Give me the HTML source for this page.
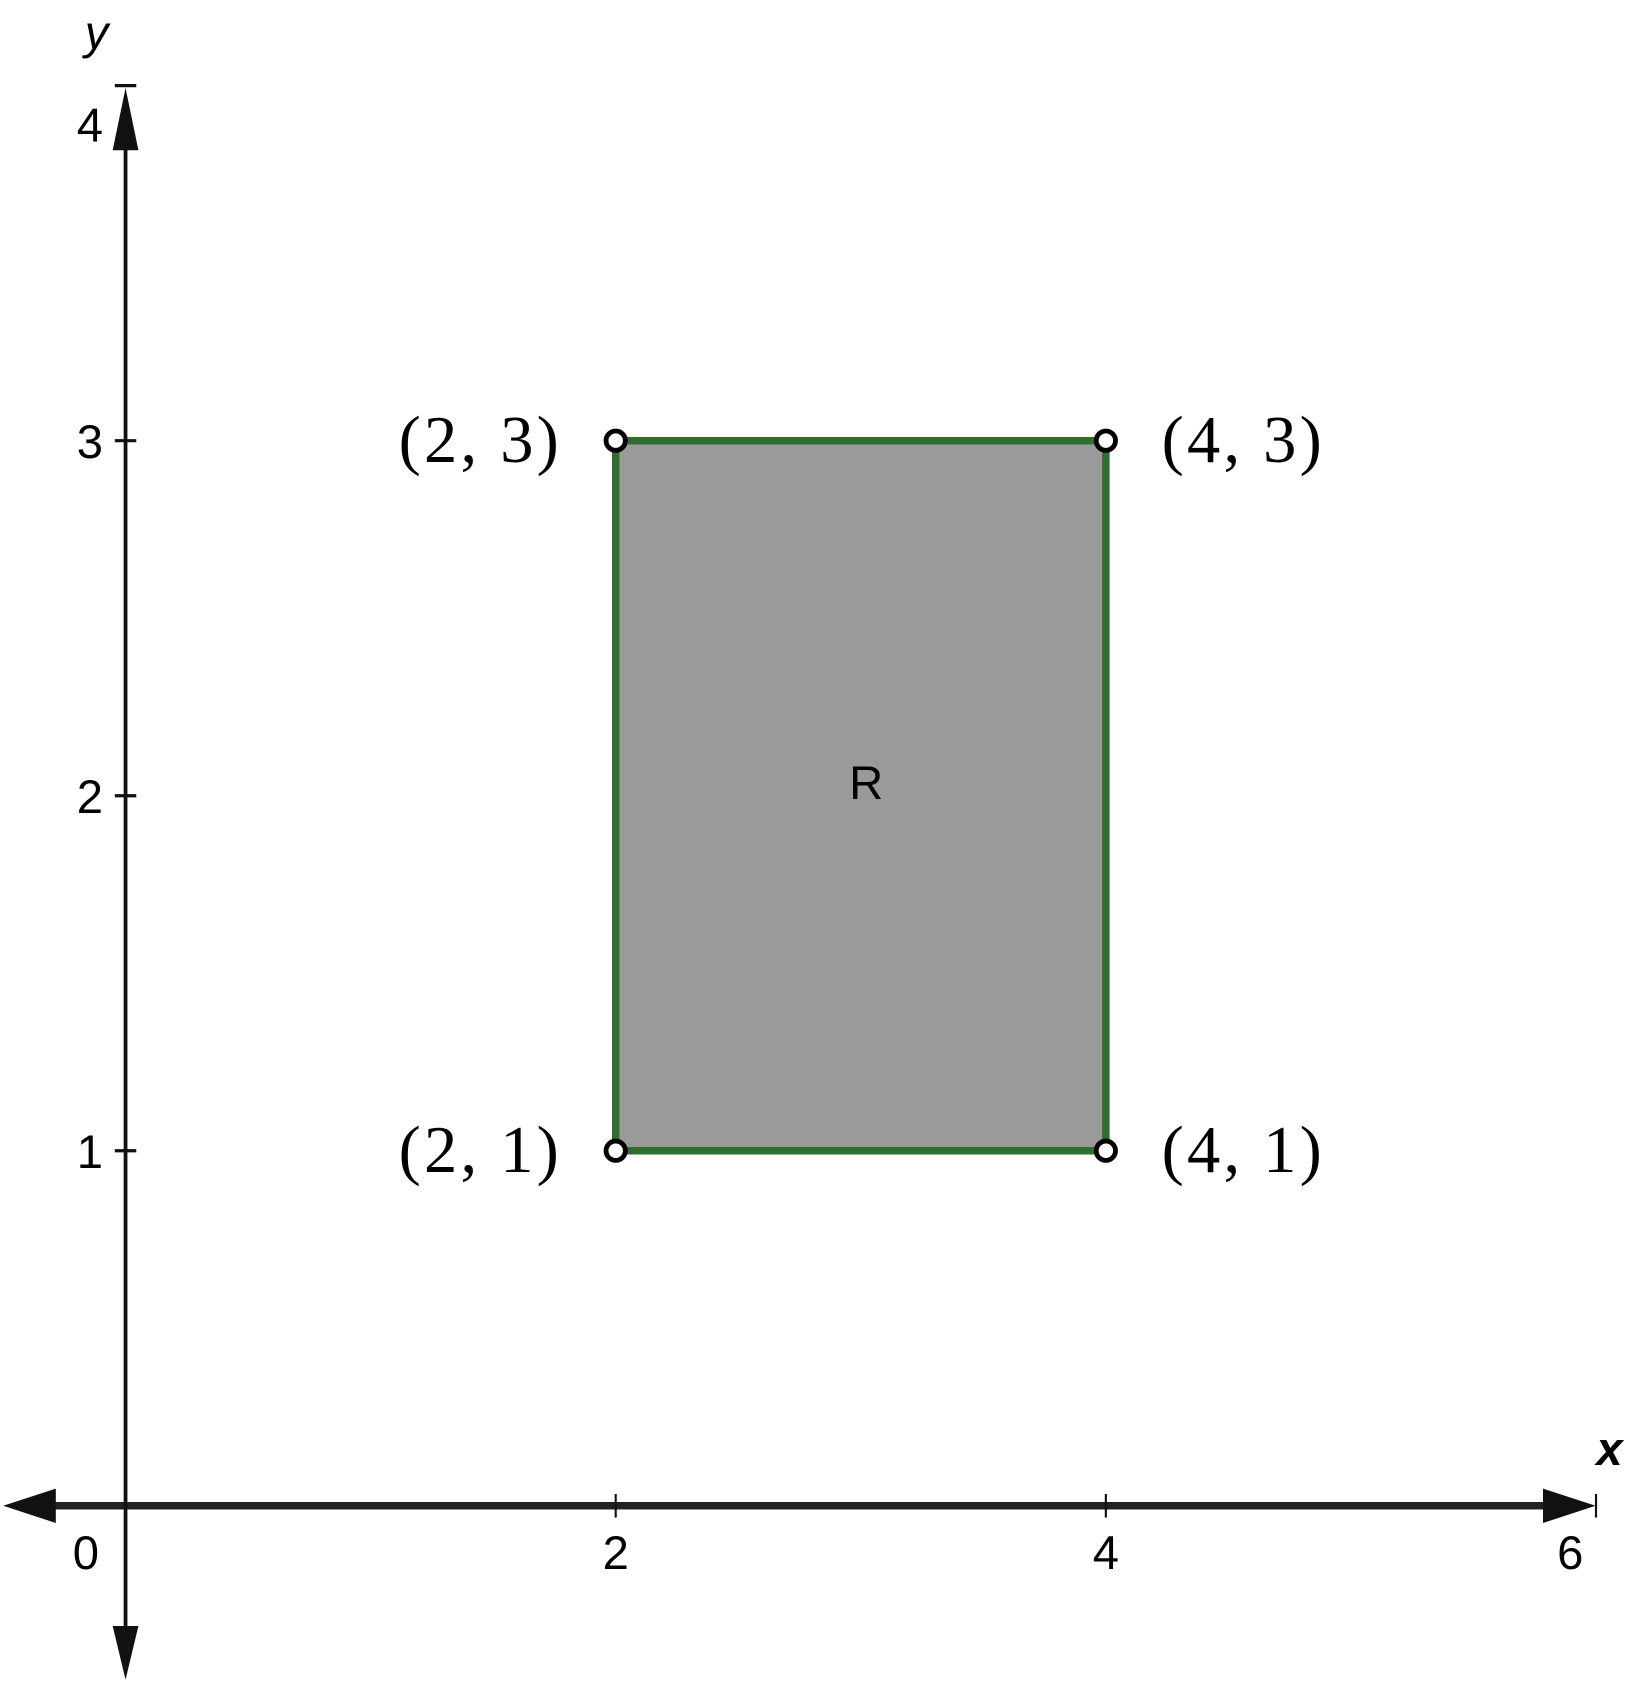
<!DOCTYPE html>
<html><head><meta charset="utf-8"><style>
html,body{margin:0;padding:0;background:#fff;}
svg{display:block;}
.tk{font-family:"Liberation Sans",sans-serif;font-size:44px;fill:#000;}
.pl{font-family:"Liberation Serif",serif;font-size:62px;fill:#000;letter-spacing:3px;}
</style></head><body>
<svg id="chart" width="1631" height="1685" viewBox="0 0 1520 1570" preserveAspectRatio="none" xmlns="http://www.w3.org/2000/svg">
<g id="g"></g>
</svg>
<script>
const xTicks=[0,2,4,6];
const yTicks=[1,2,3,4];
const rectX=[2,4];
const rectY=[1,3];
const pointXs=[2,4,2,4];
const pointYs=[3,3,1,1];
const pointLabels=["(2, 3)","(4, 3)","(2, 1)","(4, 1)"];
const regionLabel="R";
const NS="http://www.w3.org/2000/svg";
const sx=v=>117+v*228.4;
const sy=v=>1403-v*330.8;
const g=document.getElementById('g');
function mk(t,a,txt){const e=document.createElementNS(NS,t);for(const k in a)e.setAttribute(k,a[k]);if(txt!==undefined)e.textContent=txt;g.appendChild(e);return e;}
let r=mk('rect',{x:sx(rectX[0]),y:sy(rectY[1]),width:sx(rectX[1])-sx(rectX[0]),height:sy(rectY[0])-sy(rectY[1]),fill:'#9a9a9a',stroke:'#2f6e2f','stroke-width':7});


let rl=mk('text',{x:(sx(rectX[0])+sx(rectX[1]))/2+5,y:(sy(rectY[0])+sy(rectY[1]))/2+3,'text-anchor':'middle',class:'tk','font-size':48},regionLabel);


let xa=mk('line',{x1:20,y1:sy(0),x2:1470,y2:sy(0),stroke:'#222','stroke-width':7});


let xl=mk('polygon',{points:`3,${sy(0)} 52,${sy(0)-16} 52,${sy(0)+16}`,fill:'#111'});


let xr=mk('polygon',{points:`1487,${sy(0)} 1438,${sy(0)-16} 1438,${sy(0)+16}`,fill:'#111'});


let ya=mk('line',{x1:sx(0),y1:95,x2:sx(0),y2:1545,stroke:'#111','stroke-width':3.5});


let yu=mk('polygon',{points:`${sx(0)},82 ${sx(0)-12},140 ${sx(0)+12},140`,fill:'#111'});


let yd=mk('polygon',{points:`${sx(0)},1565 ${sx(0)-12},1515 ${sx(0)+12},1515`,fill:'#111'});


xTicks.forEach(v=>{
  if(v>0){let t=mk('line',{x1:sx(v),y1:sy(0)-11,x2:sx(v),y2:sy(0)+11,stroke:'#111','stroke-width':2});
  
  }
  let l=mk('text',{x:v===0?80:sx(v)+(v===6?-24:0),y:1462,'text-anchor':'middle',class:'tk'},String(v));
  
  
});
yTicks.forEach(v=>{
  let t=mk('line',{x1:sx(0)-10,y1:sy(v),x2:sx(0)+10,y2:sy(v),stroke:'#111','stroke-width':3});
  
  
  let l=mk('text',{x:96,y:sy(v)+16+(v===4?36:0),'text-anchor':'end',class:'tk'},String(v));
  
  
});
let xt=mk('text',{x:1500,y:1365,'text-anchor':'middle',class:'tk','font-style':'italic','font-weight':'bold','font-size':46},'x');


let yt=mk('text',{x:90,y:45,'text-anchor':'middle',class:'tk','font-style':'italic','font-size':46},'y');


pointXs.forEach((px,i)=>{
  let c=mk('circle',{cx:sx(px),cy:sy(pointYs[i]),r:9,fill:'#fff',stroke:'#000','stroke-width':4.5});
  
  
  const left=px===rectX[0];
  let l=mk('text',{x:left?sx(px)-50:sx(px)+52,y:sy(pointYs[i])+20,'text-anchor':left?'end':'start',class:'pl'},pointLabels[i]);
  
  
});
</script>
</body></html>
